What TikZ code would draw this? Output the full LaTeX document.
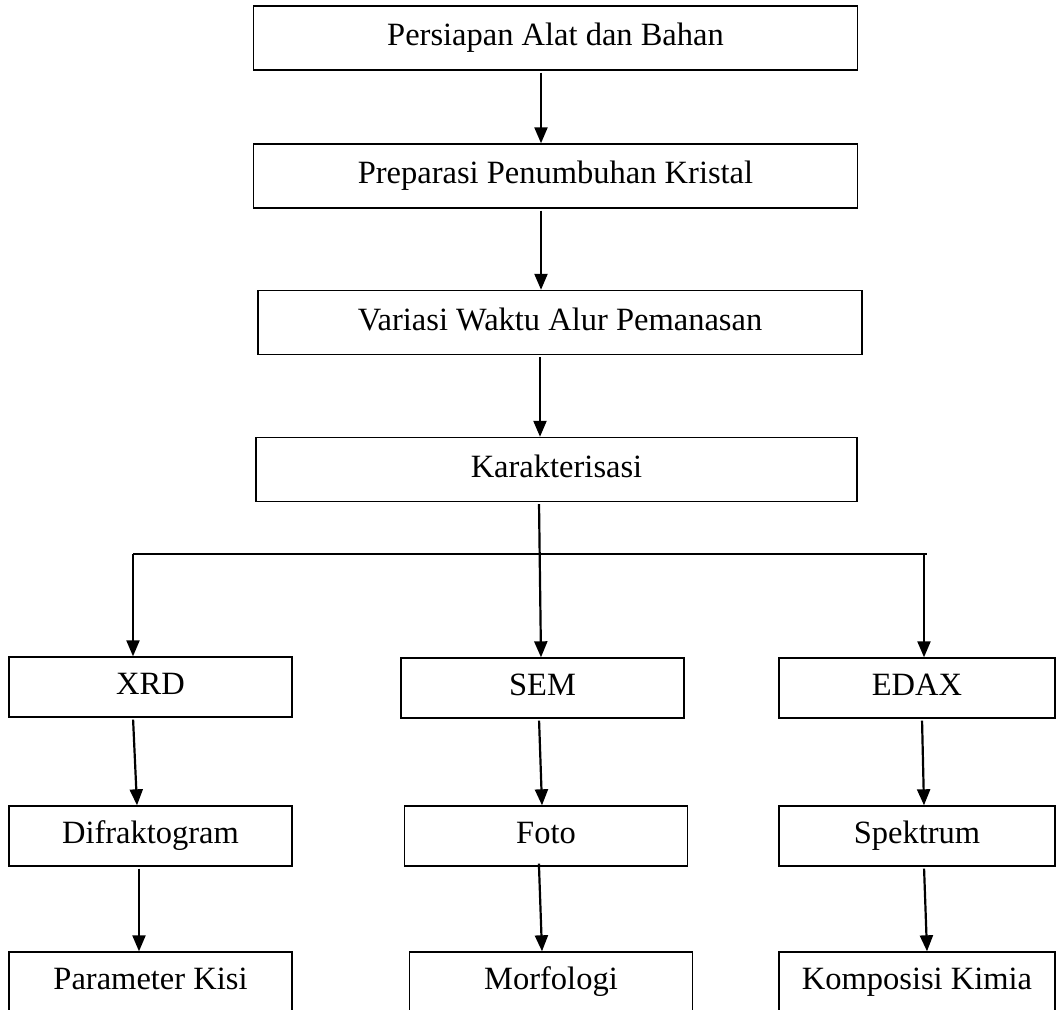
\documentclass[tikz,border=0pt]{standalone}
\usepackage{fontspec}
\setmainfont{Liberation Serif}
\usetikzlibrary{arrows.meta,positioning}
\begin{document}
\begin{tikzpicture}[
    x=1pt,
    y=-1pt,
    every node/.style={font=\fontsize{32.5}{39}\selectfont},
    box/.style={rectangle,draw,line width=1.4pt,inner sep=0pt,text height=22pt,text depth=7pt},
    wide/.style={box,minimum width=604pt,minimum height=64pt},
    small/.style={box,minimum width=283pt,minimum height=60pt},
    arr/.style={-{Triangle[length=16pt,width=13pt]},line width=2.2pt,shorten <=2pt}
]
\useasboundingbox (0,0) rectangle (1057,1009);
\clip (0,0) rectangle (1057,1009);

\node[wide] (prep) at (555.5,38) {Persiapan Alat dan Bahan};
\node[wide,below of=prep,node distance=138pt] (grow) {Preparasi Penumbuhan Kristal};
\node[wide,below of=grow,node distance=146.5pt,xshift=4.5pt] (heat) {Variasi Waktu Alur Pemanasan};
\node[wide,below of=heat,node distance=147pt,xshift=-3.5pt,minimum width=601pt] (char) {Karakterisasi};

\node[small] (xrd) at (150.5,687) {XRD};
\node[small,below of=xrd,node distance=149pt] (difr) {Difraktogram};
\node[small,below of=difr,node distance=146pt] (kisi) {Parameter Kisi};

\node[small] (sem) at (542.5,688) {SEM};
\node[small,below of=sem,node distance=148pt,xshift=3.5pt] (foto) {Foto};
\node[small,below of=foto,node distance=146pt,xshift=5pt] (morf) {Morfologi};

\node[small,minimum width=276pt] (edax) at (917,688) {EDAX};
\node[small,minimum width=276pt,below of=edax,node distance=148pt] (spek) {Spektrum};
\node[small,minimum width=276pt,below of=spek,node distance=146pt] (komp) {Komposisi Kimia};

\coordinate (hl) at (133,554);
\coordinate (hr) at (927,554);

\draw[arr] ([xshift=-14.5pt]prep.south) -- ([xshift=-14.5pt]grow.north);
\draw[arr] ([xshift=-14.5pt]grow.south) -- ([xshift=-19pt]heat.north);
\draw[arr] ([xshift=-20pt]heat.south) -- ([xshift=-16.5pt]char.north);
\draw[arr] ([xshift=-17.5pt]char.south) -- ([xshift=-1.5pt]sem.north);

\draw[line width=1.4pt] (hl) -- (hr);
\draw[arr,shorten <=0pt] (hl) -- ([xshift=-17.5pt]xrd.north);
\draw[arr,shorten <=0pt] ([xshift=-3pt]hr) -- ([xshift=7pt]edax.north);

\draw[arr] ([xshift=-17.5pt]xrd.south) -- ([xshift=-13.5pt]difr.north);
\draw[arr] ([xshift=-11.5pt]difr.south) -- ([xshift=-11.5pt]kisi.north);
\draw[arr] ([xshift=-3.5pt]sem.south) -- ([xshift=-4pt]foto.north);
\draw[arr,shorten <=-3pt] ([xshift=-7pt]foto.south) -- ([xshift=-9pt]morf.north);
\draw[arr] ([xshift=5pt]edax.south) -- ([xshift=7pt]spek.north);
\draw[arr] ([xshift=7pt]spek.south) -- ([xshift=10pt]komp.north);

\end{tikzpicture}
\end{document}
